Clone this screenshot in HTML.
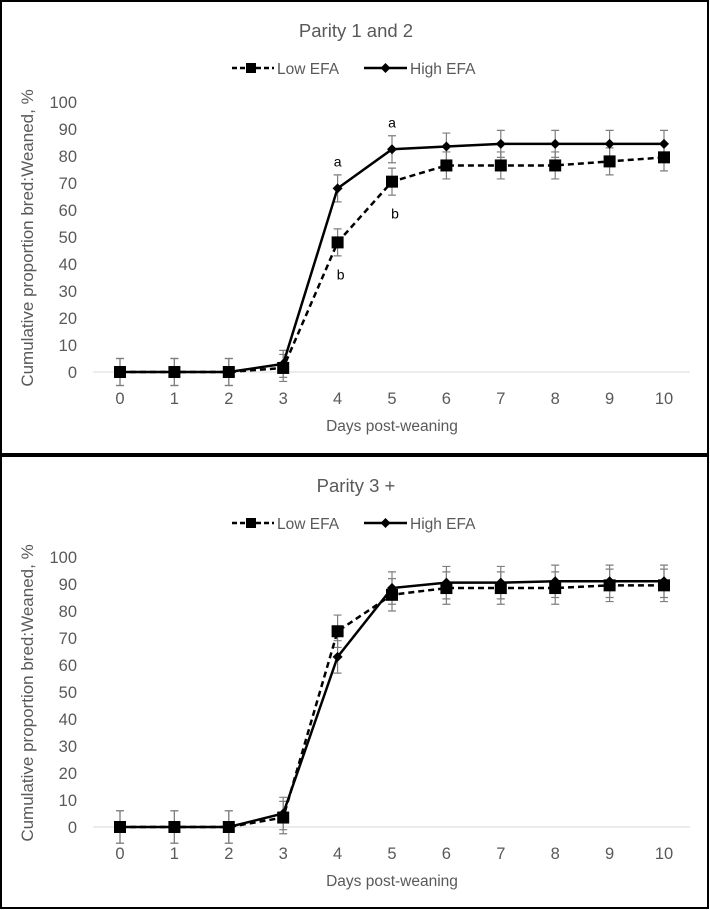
<!DOCTYPE html>
<html><head><meta charset="utf-8"><style>
body{margin:0;background:#fff;}
svg{display:block;font-family:"Liberation Sans",sans-serif;}
</style></head><body>
<svg id="chart" width="710" height="910" viewBox="0 0 710 910" xmlns="http://www.w3.org/2000/svg"></svg>
<script>
const days = [0,1,2,3,4,5,6,7,8,9,10];
const yTicks = [0,10,20,30,40,50,60,70,80,90,100];
const p1Low = [0,0,0,1.5,48,70.5,76.5,76.5,76.5,78,79.5];
const p1High = [0,0,0,3,68,82.5,83.5,84.5,84.5,84.5,84.5];
const p1Err = [5,5,5,5,5,5,5,5,5,5,5];
const p3Low = [0,0,0,3.5,72.5,86,88.5,88.5,88.5,89.5,89.5];
const p3High = [0,0,0,5,63,88.5,90.5,90.5,91,91,91];
const p3Err = [6,6,6,6,6,6,6,6,6,6,6];
const p1Letters = [{day:4,val:68,txt:'a',pos:'above'},{day:5,val:82.5,txt:'a',pos:'above'},{day:4,val:48,txt:'b',pos:'below'},{day:5,val:70.5,txt:'b',pos:'below'}];

const NS='http://www.w3.org/2000/svg';
const svg=document.getElementById('chart');
function mk(tag,attrs,parent){const e=document.createElementNS(NS,tag);for(const k in attrs)e.setAttribute(k,attrs[k]);(parent||svg).appendChild(e);return e;}

const f1=mk('rect',{x:1,y:1,width:707,height:453,fill:'none',stroke:'#000','stroke-width':2});


const f2=mk('rect',{x:1,y:456,width:707,height:452,fill:'none',stroke:'#000','stroke-width':2});



function drawPanel(off,title,low,high,err,letters,name){
  const g=mk('g',{transform:'translate(0,'+off+')'});
  
  
  const xS=d=>120+d*54.4;
  const yS=v=>372-v*2.7;
  const t=mk('text',{x:356,y:37,'text-anchor':'middle','font-size':18.5,fill:'#595959'},g);
  t.textContent=title;
  
  
  const lg=mk('g',{},g);
  
  
  const l1=mk('g',{},lg);
  
  
  mk('line',{x1:232,y1:68,x2:274,y2:68,stroke:'#000','stroke-width':2.5,'stroke-dasharray':'5,3'},l1);
  mk('rect',{x:246,y:63,width:10,height:10,fill:'#000'},l1);
  const lt1=mk('text',{x:277,y:74,'font-size':15.5,fill:'#595959'},l1);lt1.textContent='Low EFA';
  const l2=mk('g',{},lg);
  
  
  mk('line',{x1:364,y1:68,x2:407,y2:68,stroke:'#000','stroke-width':2.5},l2);
  mk('path',{d:'M385.5 63 L390.5 68 L385.5 73 L380.5 68Z',fill:'#000'},l2);
  const lt2=mk('text',{x:410,y:74,'font-size':15.5,fill:'#595959'},l2);lt2.textContent='High EFA';
  const bl=mk('line',{x1:93,y1:yS(0),x2:690,y2:yS(0),stroke:'#d9d9d9','stroke-width':1},g);
  
  
  yTicks.forEach(v=>{const e=mk('text',{x:77,y:yS(v)+6,'text-anchor':'end','font-size':16.5,fill:'#595959'},g);e.textContent=v;
    
    });
  days.forEach(d=>{const e=mk('text',{x:xS(d),y:yS(0)+32,'text-anchor':'middle','font-size':16.5,fill:'#595959'},g);e.textContent=d;
    
    });
  const xt=mk('text',{x:392,y:431,'text-anchor':'middle','font-size':15.5,fill:'#595959'},g);xt.textContent='Days post-weaning';
  
  
  const yt=mk('text',{x:0,y:0,'text-anchor':'middle','font-size':17,fill:'#595959',transform:'translate(33,238) rotate(-90)'},g);yt.textContent='Cumulative proportion bred:Weaned, %';
  
  
  [low,high].forEach(s=>{s.forEach((v,i)=>{const x=xS(days[i]);
    const eb=mk('path',{d:`M${x} ${yS(v+err[i])}V${yS(v-err[i])}M${x-4} ${yS(v+err[i])}H${x+4}M${x-4} ${yS(v-err[i])}H${x+4}`,stroke:'#7f7f7f','stroke-width':1.2,fill:'none'},g);
    
    });});
  const pl=mk('polyline',{points:low.map((v,i)=>xS(days[i])+','+yS(v)).join(' '),fill:'none',stroke:'#000','stroke-width':2.5,'stroke-dasharray':'6,4'},g);
  
  
  const ph=mk('polyline',{points:high.map((v,i)=>xS(days[i])+','+yS(v)).join(' '),fill:'none',stroke:'#000','stroke-width':2.5},g);
  
  
  low.forEach((v,i)=>{const m=mk('rect',{x:xS(days[i])-6,y:yS(v)-6,width:12,height:12,fill:'#000'},g);
    
    });
  high.forEach((v,i)=>{const x=xS(days[i]),y=yS(v);const m=mk('path',{d:`M${x} ${y-5}L${x+5} ${y}L${x} ${y+5}L${x-5} ${y}Z`,fill:'#000'},g);
    
    });
  letters.forEach(L=>{const y=L.pos==='above'?yS(L.val)-22:yS(L.val)+37;
    const e=mk('text',{x:xS(L.day)+(L.pos==='above'?0:3),y:y,'text-anchor':'middle','font-size':14,fill:'#000'},g);e.textContent=L.txt;
    
    });
}
drawPanel(0,'Parity 1 and 2',p1Low,p1High,p1Err,p1Letters,'chart-parity-1-2');
drawPanel(455,'Parity 3 +',p3Low,p3High,p3Err,[],'chart-parity-3-plus');
</script>
</body></html>
